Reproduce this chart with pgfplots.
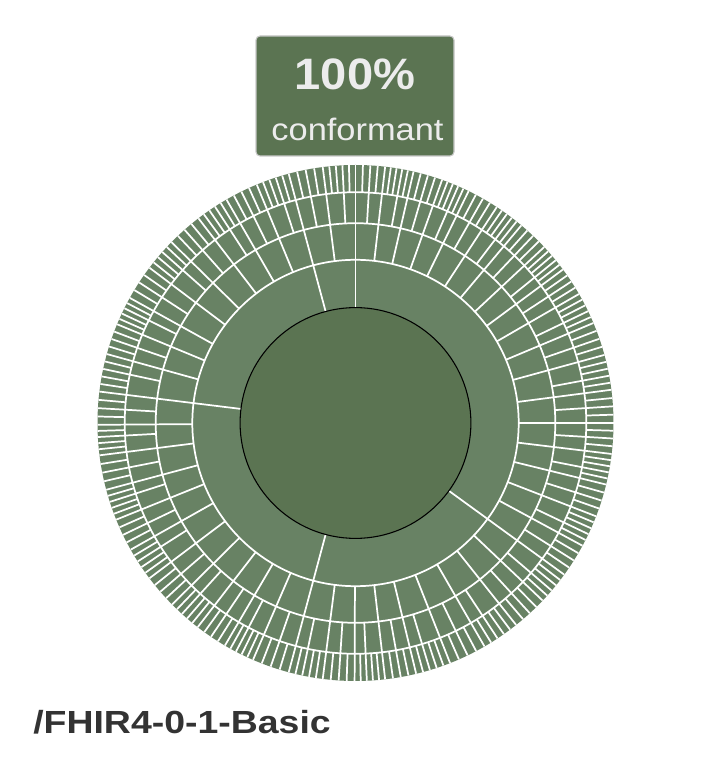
\documentclass[border=0pt]{standalone}
\usepackage{pgfplots}
\pgfplotsset{compat=1.18}
\usepackage{pgfplotstable}
\usepackage{graphicx}
\usepackage{fontspec}
\setmainfont{Liberation Sans}
\definecolor{ringgreen}{RGB}{104,130,100}
\definecolor{coregreen}{RGB}{91,116,82}
\definecolor{boxtxt}{RGB}{236,236,236}
\definecolor{titletxt}{RGB}{51,51,51}
\definecolor{boxedge}{RGB}{200,200,200}

% boundary angles (deg, counter-clockwise from 3 o'clock) and the ring level where each starts
\pgfplotstableread[row sep=\\]{
a l\\
90 1\\ 105 1\\ 173 1\\ 255 1\\ 324 1\\
0 2\\ 7.4 2\\ 15.3 2\\ 22.8 2\\ 30 2\\ 36.5 2\\ 43 2\\ 50 2\\ 56.8 2\\ 64 2\\ 70.4 2\\ 77 2\\ 83.4 2\\ 97.3 2\\
112.5 2\\ 120 2\\ 127.5 2\\ 135.5 2\\ 143 2\\ 151 2\\ 157.5 2\\ 164.5 2\\ 180.4 2\\ 187.2 2\\ 195 2\\ 202 2\\
209.4 2\\ 217 2\\ 224.7 2\\ 232.3 2\\ 239.6 2\\ 246.6 2\\ 262.7 2\\ 269.8 2\\ 276.6 2\\ 283.6 2\\ 291.5 2\\
300 2\\ 308.5 2\\ 316.5 2\\ 331.6 2\\ 338.8 2\\ 346.2 2\\ 353.1 2\\
3.7 3\\ 10.56 3\\ 19.05 3\\ 25.68 3\\ 33.25 3\\ 39.1 3\\ 46.5 3\\ 52.72 3\\ 60.4 3\\ 66.56 3\\ 73.7 3\\
79.56 3\\ 86.7 3\\ 92.92 3\\ 101.15 3\\ 108 3\\ 116.25 3\\ 123 3\\ 131.5 3\\ 138.5 3\\ 147 3\\ 153.6 3\\
161 3\\ 167.9 3\\ 176.7 3\\ 183.12 3\\ 191.1 3\\ 197.8 3\\ 205.7 3\\ 212.44 3\\ 220.85 3\\ 227.74 3\\
235.95 3\\ 242.4 3\\ 250.8 3\\ 258.08 3\\ 266.25 3\\ 272.52 3\\ 280.1 3\\ 286.76 3\\ 295.75 3\\ 303.4 3\\
312.5 3\\ 319.5 3\\ 327.8 3\\ 334.48 3\\ 342.5 3\\ 348.96 3\\ 356.55 3\\
1.85 4\\ 5.55 4\\ 8.98 4\\ 12.14 4\\ 13.72 4\\ 17.18 4\\ 20.93 4\\ 24.24 4\\ 27.12 4\\ 28.56 4\\
31.63 4\\ 34.88 4\\ 37.8 4\\ 40.4 4\\ 41.7 4\\ 44.75 4\\ 48.25 4\\ 51.36 4\\ 54.08 4\\ 55.44 4\\
58.6 4\\ 62.2 4\\ 65.28 4\\ 67.84 4\\ 69.12 4\\ 72.05 4\\ 75.35 4\\ 78.28 4\\ 80.84 4\\ 82.12 4\\
85.05 4\\ 88.35 4\\ 91.46 4\\ 94.38 4\\ 95.84 4\\ 99.23 4\\ 103.08 4\\ 106.5 4\\ 109.5 4\\ 111 4\\
114.38 4\\ 118.13 4\\ 121.5 4\\ 124.5 4\\ 126 4\\ 129.5 4\\ 133.5 4\\ 137 4\\ 140 4\\ 141.5 4\\
145 4\\ 149 4\\ 152.3 4\\ 154.9 4\\ 156.2 4\\ 159.25 4\\ 162.75 4\\ 166.2 4\\ 169.6 4\\ 171.3 4\\
174.85 4\\ 178.55 4\\ 181.76 4\\ 184.48 4\\ 185.84 4\\ 189.15 4\\ 193.05 4\\ 196.4 4\\ 199.2 4\\ 200.6 4\\
203.85 4\\ 207.55 4\\ 210.92 4\\ 213.96 4\\ 215.48 4\\ 218.93 4\\ 222.78 4\\ 226.22 4\\ 229.26 4\\ 230.78 4\\
234.13 4\\ 237.78 4\\ 241 4\\ 243.8 4\\ 245.2 4\\ 248.7 4\\ 252.9 4\\ 256.54 4\\ 259.62 4\\ 261.16 4\\
264.48 4\\ 268.03 4\\ 271.16 4\\ 273.88 4\\ 275.24 4\\ 278.35 4\\ 281.85 4\\ 285.18 4\\ 288.34 4\\ 289.92 4\\
293.63 4\\ 297.88 4\\ 301.7 4\\ 305.1 4\\ 306.8 4\\ 310.5 4\\ 314.5 4\\ 318 4\\ 321 4\\ 322.5 4\\
325.9 4\\ 329.7 4\\ 333.04 4\\ 335.92 4\\ 337.36 4\\ 340.65 4\\ 344.35 4\\ 347.58 4\\ 350.34 4\\ 351.72 4\\
354.83 4\\ 358.28 4\\
}\bounds

\begin{document}
\begin{tikzpicture}
\begin{axis}[
  x=0.75pt, y=0.75pt,
  xmin=0, xmax=712, ymin=0, ymax=758,
  hide axis, clip=false,
]
\path (rel axis cs:0,0) rectangle (rel axis cs:1,1);
% rings (equal-area radii)
\fill[ringgreen] (axis cs:355.5,335) circle[radius=258];
\addplot[white, line width=1.3pt,
  quiver={u={(258-258*sqrt(\thisrow{l}/5))*cos(\thisrow{a})},
          v={(258-258*sqrt(\thisrow{l}/5))*sin(\thisrow{a})}}]
  table[x expr={355.5+258*sqrt(\thisrow{l}/5)*cos(\thisrow{a})},
        y expr={335+258*sqrt(\thisrow{l}/5)*sin(\thisrow{a})}] {\bounds};
\draw[white, line width=1.3pt] (axis cs:355.5,335) circle[radius=163.2];
\draw[white, line width=1.3pt] (axis cs:355.5,335) circle[radius=199.8];
\draw[white, line width=1.3pt] (axis cs:355.5,335) circle[radius=230.8];
\filldraw[fill=coregreen, draw=black, line width=0.8pt] (axis cs:355.5,335) circle[radius=115.4];
% badge
\draw[draw=boxedge, fill=coregreen, line width=0.8pt, rounded corners=3pt]
  (axis cs:256,602) rectangle (axis cs:454,722);
\node[anchor=base, inner sep=0pt, text=boxtxt, font=\bfseries\fontsize{33}{36}\selectfont]
  at (axis cs:355,668) {\scalebox{1.07}[1]{100\%}};
\node[anchor=base, inner sep=0pt, text=boxtxt, font=\fontsize{23.25}{26}\selectfont]
  at (axis cs:357.5,617) {\scalebox{1.11}[1]{conformant}};
% title
\node[anchor=base west, inner sep=0pt, text=titletxt, font=\bfseries\fontsize{24}{27}\selectfont]
  at (axis cs:33,25) {\scalebox{1.17}[1]{/FHIR4-0-1-Basic}};
\end{axis}
\end{tikzpicture}
\end{document}
